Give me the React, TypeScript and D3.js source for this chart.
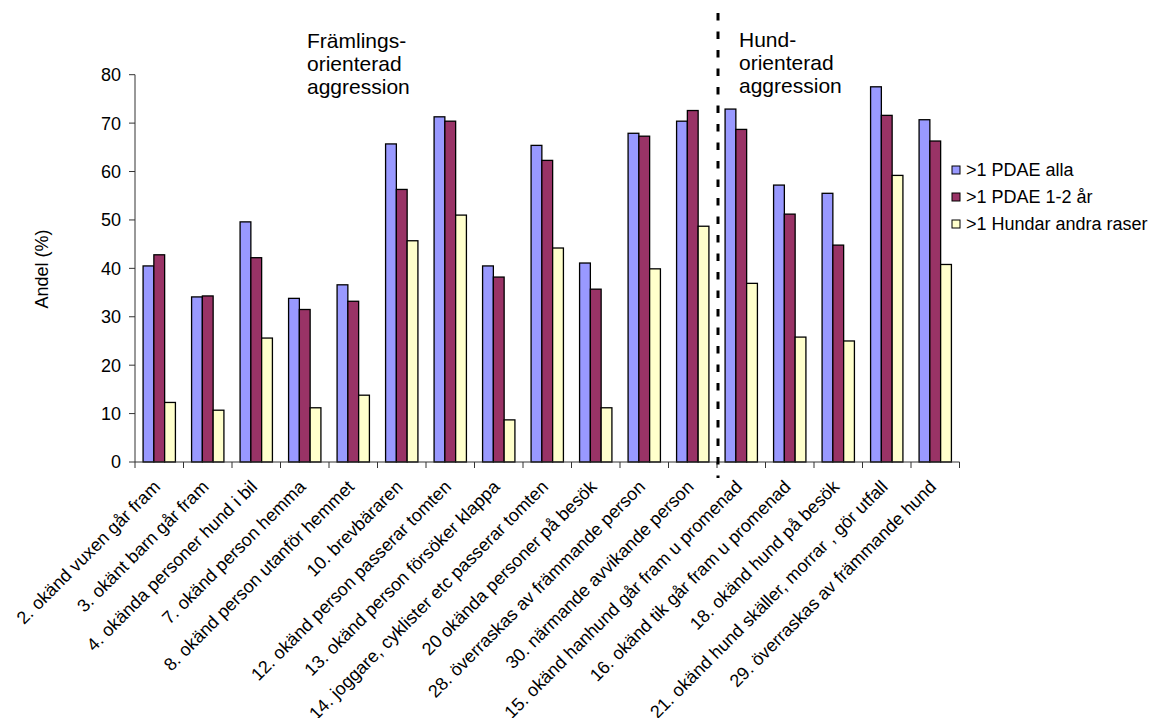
import React from "react";
import * as d3 from "d3";

const categories = [
  "2. okänd vuxen går fram",
  "3. okänt barn går fram",
  "4. okända personer hund i bil",
  "7. okänd person hemma",
  "8. okänd person utanför hemmet",
  "10. brevbäraren",
  "12. okänd person passerar tomten",
  "13. okänd person försöker klappa",
  "14. joggare, cyklister etc passerar tomten",
  "20 okända personer på besök",
  "28. överraskas av främmande person",
  "30. närmande avvikande person",
  "15. okänd hanhund går fram u promenad",
  "16. okänd tik går fram u promenad",
  "18. okänd hund på besök",
  "21. okänd hund skäller, morrar , gör utfall",
  "29. överraskas av främmande hund",
];

const pdaeAlla = [40.5, 34.1, 49.6, 33.8, 36.6, 65.7, 71.3, 40.5, 65.4, 41.1, 67.9, 70.4, 72.9, 57.2, 55.5, 77.5, 70.7];
const pdae12 = [42.8, 34.3, 42.2, 31.5, 33.2, 56.3, 70.4, 38.2, 62.3, 35.7, 67.3, 72.6, 68.7, 51.2, 44.8, 71.6, 66.3];
const andraRaser = [12.3, 10.7, 25.6, 11.2, 13.8, 45.7, 51.0, 8.7, 44.2, 11.2, 39.9, 48.7, 36.9, 25.8, 25.0, 59.2, 40.8];

const seriesNames = [">1 PDAE alla", ">1 PDAE 1-2 år", ">1 Hundar andra raser"];
const seriesColors = ["#9999FF", "#993366", "#FFFFCC"];
const yTicks = [0, 10, 20, 30, 40, 50, 60, 70, 80];
const yLabel = "Andel (%)";
const groupLeft = ["Främlings-", "orienterad", "aggression"];
const groupRight = ["Hund-", "orienterad", "aggression"];
const dividerAfter = 12;

const FONT = "'Liberation Sans', Arial, Helvetica, sans-serif";

export default function App() {
  const W = 1154, H = 718;
  const x0 = 135, x1 = 959.5, yBottom = 462, yTop = 74.7;
  const series = [pdaeAlla, pdae12, andraRaser];

  const x = d3.scaleBand<number>().domain(d3.range(categories.length)).range([x0, x1]).padding(0);
  const y = d3.scaleLinear().domain([0, 80]).range([yBottom, yTop]);
  const bw = x.bandwidth() / 4.5;
  const inner = d3.scaleBand<number>().domain([0, 1, 2]).range([0, bw * 3]);

  const divX = x(dividerAfter)!;

  return (
    <svg width={W} height={H} style={{ position: "absolute", left: 0, top: 0, background: "#fff" }} fontFamily={FONT}>
      <rect x={0} y={0} width={W} height={H} fill="#fff" />
      {/* bars */}
      {categories.map((c, i) => (
        <g key={c} transform={`translate(${x(i)! + bw * 0.75},0)`}>
          {series.map((s, k) => (
            <rect
              key={k}
              x={inner(k)!}
              y={y(s[i])}
              width={inner.bandwidth()}
              height={yBottom - y(s[i])}
              fill={seriesColors[k]}
              stroke="#000"
              strokeWidth={1.3}
            />
          ))}
        </g>
      ))}
      {/* y axis */}
      <line x1={x0} x2={x0} y1={yTop} y2={yBottom} stroke="#333" strokeWidth={1} />
      {yTicks.map((t) => (
        <g key={t}>
          <line x1={x0 - 6} x2={x0} y1={y(t)} y2={y(t)} stroke="#333" strokeWidth={1} />
          <text x={121} y={y(t)} dy="0.36em" textAnchor="end" fontSize={18} fill="#000">
            {t}
          </text>
        </g>
      ))}
      {/* x axis */}
      <line x1={x0} x2={x1} y1={yBottom} y2={yBottom} stroke="#333" strokeWidth={1} />
      {d3.range(categories.length + 1).map((i) => {
        const tx = i < categories.length ? x(i)! : x1;
        return <line key={i} x1={tx} x2={tx} y1={yBottom} y2={yBottom + 6} stroke="#333" strokeWidth={1} />;
      })}
      {categories.map((c, i) => {
        const cx = x(i)! + x.bandwidth() / 2;
        return (
          <text
            key={c}
            transform={`translate(${cx + 2},${488}) rotate(-45)`}
            textAnchor="end"
            fontSize={18}
            fill="#000"
          >
            {c}
          </text>
        );
      })}
      {/* y label */}
      <text transform={`translate(48,269) rotate(-90)`} textAnchor="middle" fontSize={18} fill="#000">
        {yLabel}
      </text>
      {/* divider */}
      <line x1={divX + 1} x2={divX + 1} y1={13} y2={478} stroke="#000" strokeWidth={3} strokeDasharray="7.5,11" />
      {/* group annotations */}
      {groupLeft.map((t, i) => (
        <text key={"l" + i} x={307} y={48 + i * 23} fontSize={21} fill="#000">
          {t}
        </text>
      ))}
      {groupRight.map((t, i) => (
        <text key={"r" + i} x={739} y={47 + i * 23} fontSize={21} fill="#000">
          {t}
        </text>
      ))}
      {/* legend */}
      {seriesNames.map((n, k) => (
        <g key={n} transform={`translate(952,${170 + k * 27})`}>
          <rect x={0} y={-4} width={8} height={8} fill={seriesColors[k]} stroke="#000" strokeWidth={1} />
          <text x={14} y={0} dy="0.36em" fontSize={18} fill="#000">
            {n}
          </text>
        </g>
      ))}
    </svg>
  );
}
